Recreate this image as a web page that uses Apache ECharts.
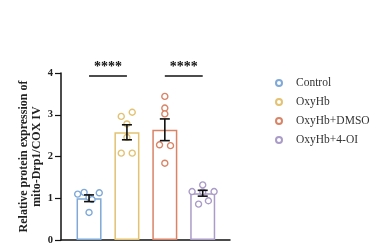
<!DOCTYPE html>
<html>
<head>
<meta charset="utf-8">
<script src="https://cdn.jsdelivr.net/npm/echarts@6/dist/echarts.min.js"></script>
<style>
  html, body { margin: 0; padding: 0; background: #fff; }
  #chart { width: 376px; height: 247px; }
</style>
</head>
<body>
<div id="chart"></div>
<script>
// groups
const categories = ['Control', 'OxyHb', 'OxyHb+DMSO', 'OxyHb+4-OI'];
const means = [1.00, 2.58, 2.64, 1.12];
const sems = [0.08, 0.18, 0.26, 0.07];

// individual samples, with horizontal jitter (fraction of a category)
const samples = [
  [1.10, 1.14, 1.02, 0.97, 1.13, 0.66],
  [2.96, 3.06, 2.78, 2.46, 2.08, 2.08],
  [3.44, 3.16, 3.02, 2.28, 2.26, 1.84],
  [1.16, 1.32, 1.16, 0.86, 0.94, 1.15]
];
const jitter = [
  [-0.30, -0.13, 0.00, 0.08, 0.27, 0.00],
  [-0.15, 0.14, 0.00, 0.00, -0.15, 0.14],
  [0.00, 0.00, 0.00, -0.14, 0.15, 0.00],
  [-0.28, 0.00, 0.30, -0.11, 0.15, 0.00]
];

// significance brackets: [from, to, level, label]
const brackets = [[0, 1, 3.93, '****'], [2, 3, 3.93, '****']];

const yTicks = [0, 1, 2, 3, 4];

const colors = ['#7fa9d8', '#e3c272', '#d98466', '#aa9cc8'];
const serif = 'Liberation Serif';

const chart = echarts.init(document.getElementById('chart'));

const barData = means.map((m, i) => ({
  value: [i, m],
  itemStyle: { color: '#fff', borderColor: colors[i], borderWidth: 1.5 }
}));

const scatterSeries = categories.map((name, i) => ({
  name: name,
  type: 'scatter',
  symbol: 'circle',
  symbolSize: 6,
  itemStyle: { color: '#fff', borderColor: colors[i], borderWidth: 1.4, opacity: 1 },
  data: samples[i].map((v, j) => [i + jitter[i][j], v]),
  z: 3
}));

const errorData = means.map((m, i) => [i, m - sems[i], m + sems[i]]);

chart.setOption({
  backgroundColor: '#fff',
  animation: false,
  grid: { left: 61, right: 146, top: 73, bottom: 7, containLabel: false },
  legend: {
    orient: 'vertical',
    left: 275,
    top: 77,
    padding: 0,
    itemGap: 7,
    itemWidth: 6,
    itemHeight: 6,
    icon: 'circle',
    data: categories,
    textStyle: {
      fontFamily: serif,
      fontSize: 11.5,
      color: '#333',
      lineHeight: 12,
      padding: [0, 0, 0, 9]
    }
  },
  xAxis: {
    type: 'value',
    min: -0.74,
    max: 3.72,
    axisLine: { show: true, lineStyle: { color: '#111', width: 1.5 } },
    axisTick: { show: false },
    axisLabel: { show: false },
    splitLine: { show: false }
  },
  yAxis: {
    type: 'value',
    min: yTicks[0],
    max: yTicks[yTicks.length - 1],
    interval: 1,
    name: 'Relative protein expression of\nmito-Drp1/COX IV',
    nameLocation: 'middle',
    nameGap: 18,
    nameTextStyle: {
      fontFamily: serif,
      fontWeight: 'bold',
      fontSize: 12,
      color: '#222',
      lineHeight: 12.5
    },
    axisLine: { show: true, onZero: false, lineStyle: { color: '#111', width: 1.5 } },
    axisTick: { show: true, length: 6, lineStyle: { color: '#111', width: 1.2 } },
    axisLabel: {
      margin: 8,
      fontFamily: serif,
      fontWeight: 'bold',
      fontSize: 10.5,
      color: '#222'
    },
    splitLine: { show: false }
  },
  series: [
    {
      name: 'mean',
      type: 'bar',
      barWidth: 25,
      data: barData,
      z: 2
    },
    ...scatterSeries,
    {
      name: 'sem',
      type: 'custom',
      z: 5,
      data: errorData,
      renderItem: function (params, api) {
        const x = api.value(0);
        const lo = api.coord([x, api.value(1)]);
        const hi = api.coord([x, api.value(2)]);
        const half = 5;
        const style = { stroke: '#111', lineWidth: 1.6 };
        return {
          type: 'group',
          children: [
            { type: 'line', shape: { x1: hi[0], y1: hi[1], x2: lo[0], y2: lo[1] }, style: style },
            { type: 'line', shape: { x1: hi[0] - half, y1: hi[1], x2: hi[0] + half, y2: hi[1] }, style: style },
            { type: 'line', shape: { x1: lo[0] - half, y1: lo[1], x2: lo[0] + half, y2: lo[1] }, style: style }
          ]
        };
      }
    },
    {
      name: 'significance',
      type: 'custom',
      z: 6,
      silent: true,
      data: brackets,
      renderItem: function (params, api) {
        const b = brackets[params.dataIndex];
        const a = api.coord([b[0], b[2]]);
        const c = api.coord([b[1], b[2]]);
        return {
          type: 'group',
          children: [
            { type: 'line', shape: { x1: a[0], y1: a[1], x2: c[0], y2: c[1] }, style: { stroke: '#111', lineWidth: 1.5 } },
            {
              type: 'text',
              x: (a[0] + c[0]) / 2,
              y: a[1] - 2,
              style: {
                text: b[3],
                fontFamily: serif,
                fontWeight: 'bold',
                fontSize: 14,
                fill: '#111',
                align: 'center',
                verticalAlign: 'bottom'
              }
            }
          ]
        };
      }
    }
  ]
});
</script>
</body>
</html>
